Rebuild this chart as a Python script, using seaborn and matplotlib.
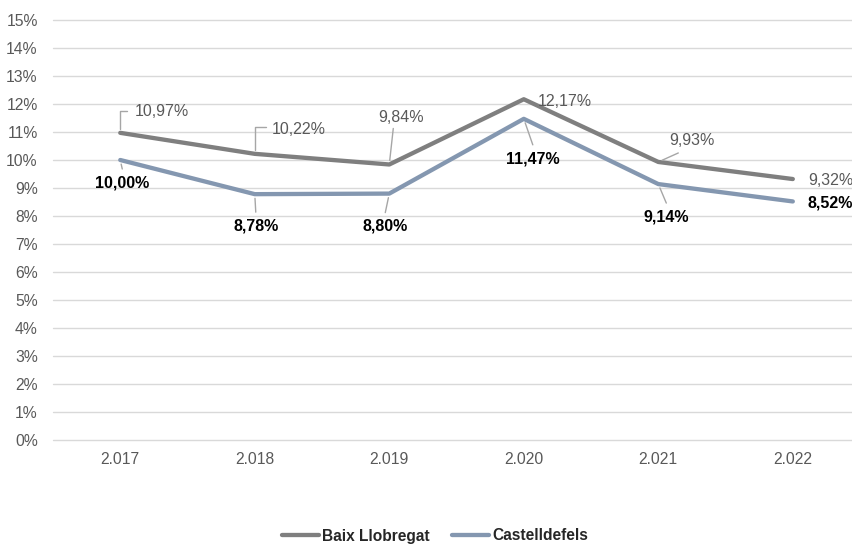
import matplotlib
matplotlib.use("Agg")
import matplotlib.pyplot as plt
import seaborn as sns
import pandas as pd
import numpy as np

years = ["2.017", "2.018", "2.019", "2.020", "2.021", "2.022"]
baix = [10.97, 10.22, 9.84, 12.17, 9.93, 9.32]
castell = [10.00, 8.78, 8.80, 11.47, 9.14, 8.52]
series_names = ["Baix Llobregat", "Castelldefels"]
yticks = list(range(0, 16))

df = pd.DataFrame({
    "year": years * 2,
    "value": baix + castell,
    "serie": [series_names[0]] * len(years) + [series_names[1]] * len(years),
})

sns.set_theme(style="white")
plt.rcParams["font.family"] = ["Liberation Sans", "DejaVu Sans"]

W, H = 852, 544
fig = plt.figure(figsize=(W / 100, H / 100), dpi=100)
ax = fig.add_axes([53 / W, 1 - 440 / H, (W - 53) / W, 420 / H])

palette = {series_names[0]: "#7f7f7f", series_names[1]: "#8497b0"}
sns.lineplot(data=df, x="year", y="value", hue="serie", palette=palette,
             linewidth=3.1, ax=ax, sort=False, legend=False, zorder=3)

ax.set_ylim(0, 15)
ax.set_xlim(-0.5, 5.44)
ax.set_yticks(yticks)
ax.set_yticklabels([f"{t}%" for t in yticks])
ax.set_xlabel("")
ax.set_ylabel("")
for s in ax.spines.values():
    s.set_visible(False)
ax.grid(axis="y", color="#d9d9d9", linewidth=1.0)
ax.grid(axis="x", visible=False)
for gl in ax.get_ygridlines():
    gl.set_clip_on(False)
ax.tick_params(axis="y", length=0, pad=11, labelsize=11.3, labelcolor="#595959")
ax.tick_params(axis="x", length=0, pad=9, labelsize=11.3, labelcolor="#595959")

def fmt(v):
    return f"{v:.2f}%".replace(".", ",")

lead_col = "#a6a6a6"

# (text offset px, ha, leader end offset px, connection)
baix_style = [
    ((14, 21), "left", (7, 22), "angle,angleA=0,angleB=90,rad=0"),
    ((17, 24), "left", (11, 27), "angle,angleA=0,angleB=90,rad=0"),
    ((12, 47), "center", (4, 36), None),
    ((14, -2), "left", None, None),
    ((34, 21), "center", (20, 9), None),
    ((15, -1), "left", None, None),
]
cast_style = [
    ((2, -23), "center", (2, -9), None),
    ((1, -32), "center", (1, -18), None),
    ((-4, -32), "center", (-4, -19), None),
    ((9, -40), "center", (9, -26), None),
    ((8, -33), "center", (8, -19), None),
    ((15, -2), "left", None, None),
]

for vals, styles, bold, col in [(baix, baix_style, False, "#595959"),
                                (castell, cast_style, True, "#000000")]:
    for i, (v, st) in enumerate(zip(vals, styles)):
        (tdx, tdy), ha, lead, conn = st
        ax.annotate(fmt(v), xy=(i, v), xytext=(tdx, tdy), textcoords="offset pixels",
                    ha=ha, va="center", fontsize=11.5, color=col,
                    fontweight="bold" if bold else "normal", zorder=5,
                    annotation_clip=False)
        if lead is not None:
            props = dict(arrowstyle="-", color=lead_col, lw=1.0,
                         shrinkA=0, shrinkB=3)
            if conn:
                props["connectionstyle"] = conn
            ax.annotate("", xy=(i, v), xytext=lead, textcoords="offset pixels",
                        arrowprops=props, zorder=4)

from matplotlib.lines import Line2D
handles = [Line2D([], [], color=palette[n], lw=3.1) for n in series_names]
leg = fig.legend(handles, series_names, loc="center",
                 bbox_to_anchor=(435 / W, 1 - 536 / H), ncol=2, frameon=False,
                 prop={"weight": "bold", "size": 11.2}, handlelength=2.4,
                 handletextpad=0.2, columnspacing=1.4, borderaxespad=0)

fig.savefig("out.png", dpi=100)
